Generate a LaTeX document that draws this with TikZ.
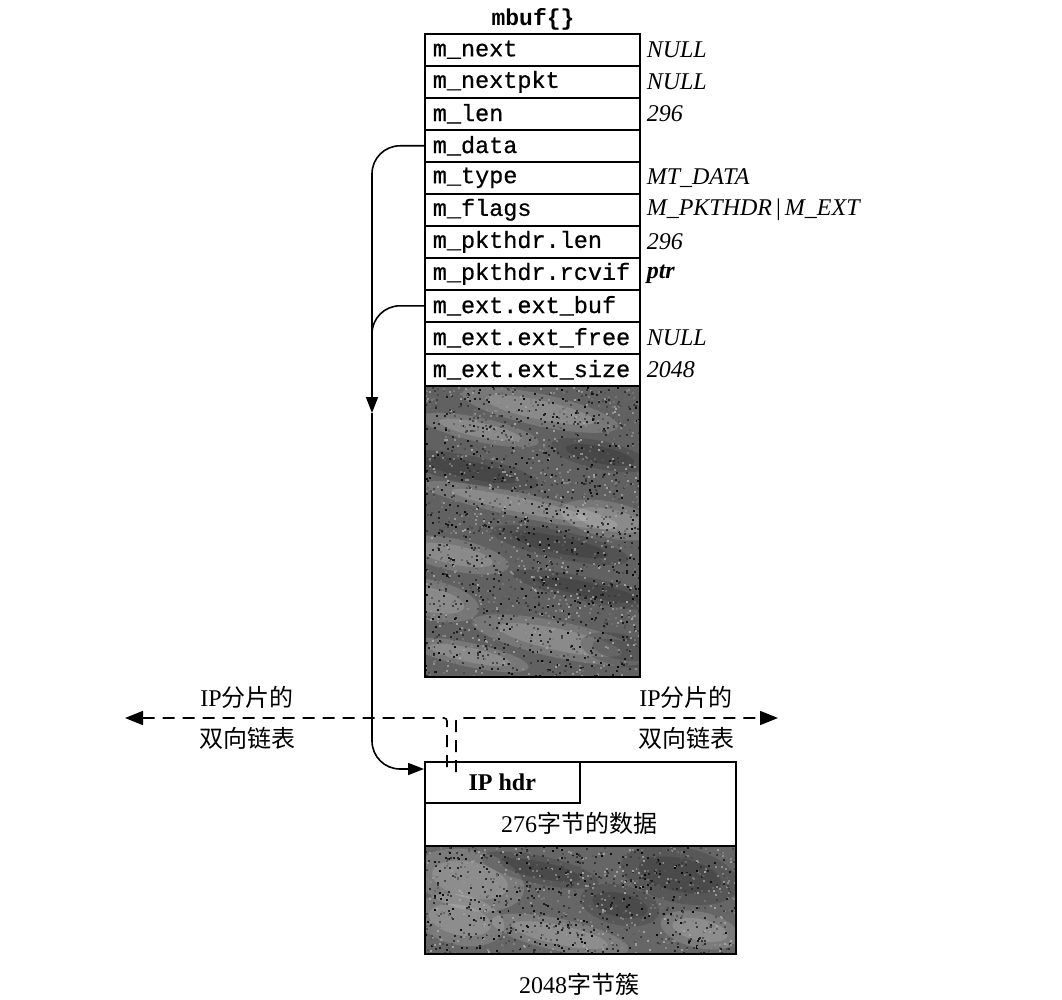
\documentclass[tikz,border=0pt]{standalone}
\usepackage{fontspec}
\setmainfont{Liberation Serif}
\setmonofont{Liberation Mono}
\newfontfamily\fieldfont[FakeBold=0.6]{Liberation Mono}
\newfontfamily\cjk{Noto Sans CJK SC}
\usetikzlibrary{arrows.meta,calc}
\newcount\hshT \newcount\hshX \newcount\hshY \newcount\hshG
% \hshT := (#1 * #2 + #3) mod #4
\def\hashmod#1#2#3#4{\hshT=#1\relax \multiply\hshT by #2\relax \advance\hshT by #3\relax
  \count255=\hshT\relax \divide\count255 by #4\relax \multiply\count255 by #4\relax
  \advance\hshT by -\count255\relax}
% \hshT := (\hshT^2 + #1) mod #2
\def\sqmod#1#2{\count255=\hshT\relax \multiply\hshT by \count255\relax \advance\hshT by #1\relax
  \count255=\hshT\relax \divide\count255 by #2\relax \multiply\count255 by #2\relax
  \advance\hshT by -\count255\relax}
\def\dotpos#1#2#3#4#5{% index, x0, w, y0, h
  \hashmod{#1}{7919}{12345}{30269}\sqmod{17}{30269}\sqmod{5}{30269}%
  \hshX=\hshT\relax \multiply\hshX by #3\relax \divide\hshX by 30269\relax \advance\hshX by #2\relax
  \hashmod{#1}{10477}{999}{30307}\sqmod{31}{30307}\sqmod{3}{30307}%
  \hshY=\hshT\relax \multiply\hshY by #5\relax \divide\hshY by 30307\relax \advance\hshY by #4\relax
  \hashmod{#1}{3571}{777}{30323}\sqmod{11}{30323}\sqmod{7}{30323}%
  \hshG=\hshT\relax \multiply\hshG by 62\relax \divide\hshG by 30323\relax \advance\hshG by 36\relax}
\begin{document}
\begin{tikzpicture}[x=1pt,y=-1pt,
  field/.style={draw,line width=1.6pt,minimum height=32pt,text width=199pt,inner xsep=8pt,inner ysep=0pt,
    align=left,anchor=north west,font=\fontsize{23.5}{26}\selectfont\fieldfont},
  val/.style={anchor=west,inner sep=0pt,font=\fontsize{24}{26}\selectfont\itshape},
  lbl/.style={inner sep=0pt,font=\fontsize{24}{28}\selectfont},
  wire/.style={line width=1.6pt,rounded corners=28pt},
  tip/.style={-{Triangle[length=16pt,width=12pt]}},
  dlink/.style={line width=1.6pt,dash pattern=on 12pt off 8pt,rounded corners=3pt},
  blob/.style={opacity=0.14}]
\useasboundingbox (0,0) rectangle (1062,1000);

% title
\node[inner sep=0pt,font=\fontsize{23}{26}\selectfont\ttfamily\bfseries] (title) at (533,19) {mbuf\{\}};

% fields
\node[field] (r1) at (424,33) {m\_next};
\node[field] (r2) at (424,65) {m\_nextpkt};
\node[field] (r3) at (424,97) {m\_len};
\node[field] (r4) at (424,129) {m\_data};
\node[field] (r5) at (424,161) {m\_type};
\node[field] (r6) at (424,193) {m\_flags};
\node[field] (r7) at (424,225) {m\_pkthdr.len};
\node[field] (r8) at (424,257) {m\_pkthdr.rcvif};
\node[field] (r9) at (424,289) {m\_ext.ext\_buf};
\node[field] (r10) at (424,321) {m\_ext.ext\_free};
\node[field] (r11) at (424,353) {m\_ext.ext\_size};

% values
\node[val] (v1) at ([xshift=6pt]r1.east) {NULL};
\node[val] (v2) at ([xshift=6pt]r2.east) {NULL};
\node[val] (v3) at ([xshift=6pt]r3.east) {296};
\node[val] (v5) at ([xshift=6pt]r5.east) {MT\_DATA};
\node[val] (v6) at ([xshift=6pt]r6.east) {M\_PKTHDR\,\upshape|\,\itshape M\_EXT};
\node[val] (v7) at ([xshift=6pt]r7.east) {296};
\node[val] (v8) at ([xshift=6pt]r8.east) {\bfseries ptr};
\node[val] (v10) at ([xshift=6pt]r10.east) {NULL};
\node[val] (v11) at ([xshift=6pt]r11.east) {2048};

% mbuf data area texture
\begin{scope}
  \clip (424,385) rectangle (639,676);
  \fill[black!62] (424,385) rectangle (639,676);
  \foreach \cx/\cy/\rx/\ry/\col in {
      540/410/80/16/white, 480/430/60/12/white, 600/455/50/14/black,
      470/470/70/14/black, 520/505/100/12/white, 610/520/50/18/white,
      560/545/70/14/black, 455/555/55/16/white, 430/600/50/20/white,
      590/590/80/12/black, 560/640/90/18/white, 470/655/60/12/white,
      620/650/40/16/black}{
    \fill[blob,\col,rotate around={-12:(\cx,\cy)}] (\cx,\cy) ellipse [x radius=\rx pt,y radius=\ry pt];
    \fill[blob,\col,rotate around={-12:(\cx,\cy)}] (\cx,\cy) ellipse [x radius=0.7*\rx pt,y radius=0.6*\ry pt];
  }
  \foreach \i in {1,...,2200}{
    \dotpos{\i}{424}{216}{385}{292}
    \edef\dx{\the\hshX}\edef\dy{\the\hshY}\edef\dg{\the\hshG}
    \fill[black!\dg] (\dx,\dy) rectangle ++(2,2);
  }
\end{scope}
\node[draw,line width=1.6pt,minimum width=215pt,minimum height=291pt,inner sep=0pt,anchor=north west] (area) at (424,385) {};

% cluster
\begin{scope}
  \clip (424,846) rectangle (735,953);
  \fill[black!60] (424,846) rectangle (735,953);
  \foreach \cx/\cy/\rx/\ry/\col in {
      470/880/55/30/white, 460/920/45/25/white, 560/935/70/16/white,
      540/870/60/14/black, 680/875/60/28/black, 700/930/40/18/white,
      620/905/40/20/black}{
    \fill[blob,\col,rotate around={-12:(\cx,\cy)}] (\cx,\cy) ellipse [x radius=\rx pt,y radius=\ry pt];
    \fill[blob,\col,rotate around={-12:(\cx,\cy)}] (\cx,\cy) ellipse [x radius=0.7*\rx pt,y radius=0.6*\ry pt];
  }
  \foreach \i in {3001,...,4200}{
    \dotpos{\i}{424}{312}{846}{108}
    \edef\dx{\the\hshX}\edef\dy{\the\hshY}\edef\dg{\the\hshG}
    \fill[black!\dg] (\dx,\dy) rectangle ++(2,2);
  }
\end{scope}
\node[draw,line width=1.6pt,minimum width=311pt,minimum height=192pt,inner sep=0pt,anchor=north west] (buf) at (424,761) {};
\draw[line width=1.6pt] (424,846) -- (735,846);
\node[draw,line width=1.6pt,minimum width=155pt,minimum height=41pt,inner sep=0pt,anchor=north west,
  font=\fontsize{24}{26}\selectfont\bfseries] (hdr) at (424,761) {IP hdr};
\node[lbl] (data) at (579,823) {276{\cjk 字节的数据}};
\node[lbl] (cap) at (579,984) {2048{\cjk 字节簇}};

% list labels
\node[lbl] (l1) at (247,697) {IP{\cjk 分片的}};
\node[lbl] (l2) at (247,738) {\cjk 双向链表};
\node[lbl] (r1l) at (686,697) {IP{\cjk 分片的}};
\node[lbl] (r2l) at (686,738) {\cjk 双向链表};

% pointers
\coordinate (down) at (372,413);
\draw[wire,tip] (r4.west) -| (down);
\draw[wire] (r9.west) -| (372,350);
\draw[wire,tip] (down) |- ($(hdr.north west)+(0,8)$);

% doubly linked list
\coordinate (lend) at (125,718);
\coordinate (rend) at (778,718);
\draw[dlink,{Triangle[length=18pt,width=14pt]}-] (lend) -- (447,718) -- ($(hdr.north west)+(23,11)$);
\draw[dlink,-{Triangle[length=18pt,width=14pt]}] ($(hdr.north west)+(32,11)$) -- (456,718) -- (rend);
\end{tikzpicture}
\end{document}
